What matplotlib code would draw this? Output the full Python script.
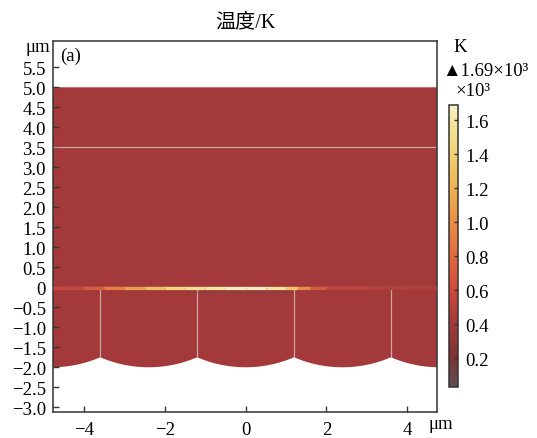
import numpy as np
import matplotlib
matplotlib.use('Agg')
import matplotlib.pyplot as plt
from matplotlib.colors import LinearSegmentedColormap, Normalize
from matplotlib.collections import LineCollection
from matplotlib.cm import ScalarMappable

# ---- data ----
t_min, t_max = 0.03, 1.69           # colour range, x10^3 K
t_base = 0.40                        # bulk temperature, x10^3 K
layer_top = 5.0                      # um
line_y = [3.5, 0.0]                  # thin boundaries
cusp_x = [-3.6, -1.2, 1.2, 3.6]      # vertical boundaries in lower layer
arc_period = 2.4
arc_radius = 3.0
arc_low = -2.0
strip_x = [-4.76, -4.0, -3.5, -3.0, -2.5, -2.0, -1.5, -1.0, -0.5, 0.0,
           0.5, 1.0, 1.3, 1.6, 2.0, 3.0, 4.0, 4.76]
strip_t = [0.50, 0.62, 0.80, 1.00, 1.20, 1.38, 1.50, 1.58, 1.64, 1.69,
           1.65, 1.50, 1.15, 0.80, 0.60, 0.48, 0.45, 0.45]
cbar_ticks = [0.2, 0.4, 0.6, 0.8, 1.0, 1.2, 1.4, 1.6]
y_ticks = [-3.0, -2.5, -2.0, -1.5, -1.0, -0.5, 0.0, 0.5, 1.0, 1.5, 2.0,
           2.5, 3.0, 3.5, 4.0, 4.5, 5.0, 5.5]
x_ticks = [-4, -2, 0, 2, 4]
xlim = (-4.77, 4.75)
ylim = (-3.11, 6.15)

# thermal-light like colour map
nodes = [(0.03, '#5e4d4f'), (0.2, '#7c3434'), (0.4, '#a3393a'),
         (0.6, '#cf4a3a'), (0.8, '#e2693f'), (1.0, '#e98e47'),
         (1.2, '#edb152'), (1.4, '#f0d173'), (1.6, '#f4e7a2'), (1.69, '#f8f2c6')]
cmap = LinearSegmentedColormap.from_list(
    'thermal', [((v - t_min) / (t_max - t_min), c) for v, c in nodes])
norm = Normalize(t_min, t_max)

serif = ['Liberation Serif', 'DejaVu Sans']
cjk = ['Liberation Serif', 'Noto Sans CJK SC']
plt.rcParams['font.family'] = serif

fig = plt.figure(figsize=(5.37, 4.39), dpi=100)
ax = fig.add_axes([0.0987, 0.0600, 0.7157, 0.8436])

# lower boundary built from circular arcs between cusps
xs = np.linspace(xlim[0], xlim[1], 600)
centers = np.round(xs / arc_period) * arc_period
yc = arc_low + arc_radius
bottom = yc - np.sqrt(arc_radius ** 2 - (xs - centers) ** 2)
px = np.concatenate([xs, [xlim[1], xlim[0]]])
py = np.concatenate([bottom, [layer_top, layer_top]])
ax.fill(px, py, color=cmap(norm(t_base)), lw=0, zorder=1)

# thin light boundaries
for yv in line_y:
    ax.plot(xlim, [yv, yv], color='#d9b9b6', lw=0.9, alpha=0.85, zorder=2)
for cx in cusp_x:
    yb = yc - np.sqrt(arc_radius ** 2 - (arc_period / 2) ** 2)
    ax.plot([cx, cx], [0, yb], color='#d9b9b6', lw=0.9, alpha=0.85, zorder=2)

# hot strip along y = 0
sx = np.array(strip_x)
st = np.array(strip_t)
pts = np.column_stack([sx, np.full_like(sx, -0.02)]).reshape(-1, 1, 2)
segs = np.concatenate([pts[:-1], pts[1:]], axis=1)
lc = LineCollection(segs, colors=cmap(norm((st[:-1] + st[1:]) / 2)),
                    linewidths=2.3, zorder=3, capstyle='butt')
ax.add_collection(lc)
ax.plot([-1.45, 1.1], [-0.12, -0.12], color='#6a4a4a', lw=0.8, alpha=0.6, zorder=3)

ax.set_xlim(*xlim)
ax.set_ylim(*ylim)
ax.set_xticks(x_ticks)
ax.set_xticklabels(['\u2212%d' % -v if v < 0 else '%d' % v for v in x_ticks])
ax.set_yticks(y_ticks)
ax.set_yticklabels(['0' if v == 0 else ('\u2212%.1f' % -v if v < 0 else '%.1f' % v)
                    for v in y_ticks])
ax.tick_params(direction='in', length=4, width=1, labelsize=13.5, color='#333333')
ax.tick_params(axis='y', pad=5)
ax.tick_params(axis='x', pad=7)
for s in ax.spines.values():
    s.set_color('#333333')
    s.set_linewidth(1.1)

ax.text(-4.6, 5.8, '(a)', fontsize=13.5, va='center', ha='left')
fig.text(245 / 537, 1 - 23 / 439, '温度/K', family=cjk, fontsize=14.5,
         ha='center', va='center')
fig.text(50 / 537, 1 - 47 / 439, 'μm', fontsize=13.5, ha='right', va='center')
fig.text(428 / 537, 1 - 425 / 439, 'μm', fontsize=13.5, ha='left', va='center')

# colour bar
cax = fig.add_axes([449 / 537, 1 - 388 / 439, 9 / 537, 282 / 439])
sm = ScalarMappable(norm=norm, cmap=cmap)
cb = fig.colorbar(sm, cax=cax, ticks=cbar_ticks)
cb.ax.set_yticklabels(['%.1f' % v for v in cbar_ticks])
cb.ax.tick_params(direction='in', length=3, width=1, labelsize=13.5, pad=5,
                  color='#333333')
cb.outline.set_edgecolor('#333333')
cb.outline.set_linewidth(1.1)
fig.text(453 / 537, 1 - 47 / 439, 'K', fontsize=13.5, ha='left', va='center')
fig.text(442 / 537, 1 - 72 / 439, '▲1.69×10³', fontsize=13.5, ha='left',
         va='center', family=serif)
fig.text(456 / 537, 1 - 92 / 439, '×10³', fontsize=13.5, ha='left', va='center')

fig.savefig('out.png', dpi=100)
